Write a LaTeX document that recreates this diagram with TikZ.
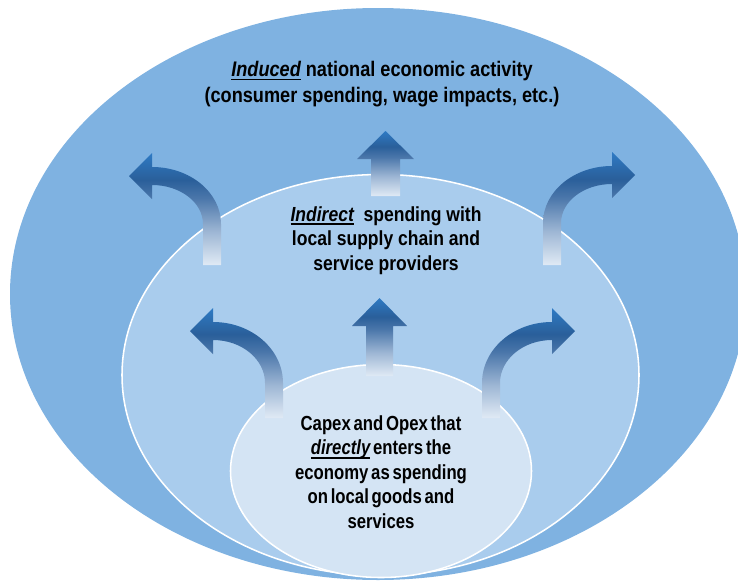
\documentclass[tikz,border=0pt]{standalone}
\usepackage{fontspec}
\setmainfont{Liberation Sans}[FakeStretch=0.86]
\newfontfamily\tightfont{Liberation Sans}[FakeStretch=0.82, WordSpace=0.6]
\usepackage{xcolor}

\definecolor{outerblue}{RGB}{127,178,225}
\definecolor{middleblue}{RGB}{169,204,237}
\definecolor{innerblue}{RGB}{212,228,244}
\definecolor{arrowlight}{RGB}{224,234,245}
\definecolor{arrowpale}{RGB}{157,182,212}
\definecolor{arrowmid}{RGB}{74,118,170}
\definecolor{arrowdark}{RGB}{42,95,154}
\definecolor{arrowtop}{RGB}{46,122,196}

\pgfdeclareverticalshading{arrowshade}{100bp}{color(0bp)=(arrowlight); color(25bp)=(arrowlight); color(40bp)=(arrowpale); color(55bp)=(arrowmid); color(63bp)=(arrowdark); color(75bp)=(arrowtop); color(100bp)=(arrowtop)}

\newcommand{\emphu}[1]{\setbox0\hbox{\itshape #1}\rlap{\rule[-2.8pt]{\wd0}{1.3pt}}\box0\relax}

\begin{document}
\begin{tikzpicture}[
  x=0.025cm, y=-0.025cm,
  ring/.style={draw=white, line width=1.1pt},
  flow/.style={shading=arrowshade, draw=none},
  words/.style={font=\bfseries, align=center, inner sep=0pt}
]
\useasboundingbox (0,0) rectangle (738,580);
\clip (0,0) rectangle (738,580);

% Nested circles of impact
\fill[outerblue] (378,294) ellipse [x radius=368, y radius=286];
\draw[ring, fill=middleblue] (380.5,375) ellipse [x radius=258.5, y radius=200.5];
\draw[ring, fill=innerblue] (381,471) ellipse [x radius=150.5, y radius=106.5];

% Arrows from the middle ring outwards
\path[flow] (221,265) -- (221,224) arc[start angle=0, end angle=-90, x radius=69, y radius=57]
  -- (152,153) -- (129,176) -- (152,199) -- (152,185)
  arc[start angle=-90, end angle=0, x radius=51, y radius=39] -- (203,265) -- cycle;
\path[flow] (371,196) -- (371,159) -- (357,159) -- (385.5,131) -- (414,159) -- (400,159) -- (400,196) -- cycle;
\path[flow] (543,265) -- (543,223) arc[start angle=180, end angle=270, x radius=69, y radius=57]
  -- (612,152) -- (635,175) -- (612,198) -- (612,184)
  arc[start angle=270, end angle=180, x radius=51, y radius=39] -- (561,265) -- cycle;

% Arrows from the inner ring outwards
\path[flow] (283,418) -- (283,383) arc[start angle=0, end angle=-90, x radius=70, y radius=61]
  -- (213,308) -- (190,331) -- (213,354) -- (213,340)
  arc[start angle=-90, end angle=0, x radius=52, y radius=43] -- (265,418) -- cycle;
\path[flow] (366,376) -- (366,326) -- (352,326) -- (379.5,298) -- (407,326) -- (393,326) -- (393,376) -- cycle;
\path[flow] (482,418) -- (482,383) arc[start angle=180, end angle=270, x radius=70, y radius=61]
  -- (552,308) -- (575,331) -- (552,354) -- (552,340)
  arc[start angle=270, end angle=180, x radius=52, y radius=43] -- (500,418) -- cycle;

% Labels
\node[words, font=\fontsize{15}{18.4}\selectfont\bfseries] (induced) at (382,84)
  {\emphu{Induced} national economic activity\\(consumer spending, wage impacts, etc.)};
\node[words, font=\fontsize{14.5}{17.6}\selectfont\bfseries] (indirect) at (386,240.5)
  {\emphu{Indirect}\ \ spending with\\local supply chain and\\service providers};
\node[words, font=\fontsize{14.5}{17.4}\selectfont\tightfont\bfseries] (direct) at (381,472)
  {Capex and Opex that\\\emphu{directly} enters the\\economy as spending\\on local goods and\\services};

\end{tikzpicture}
\end{document}
